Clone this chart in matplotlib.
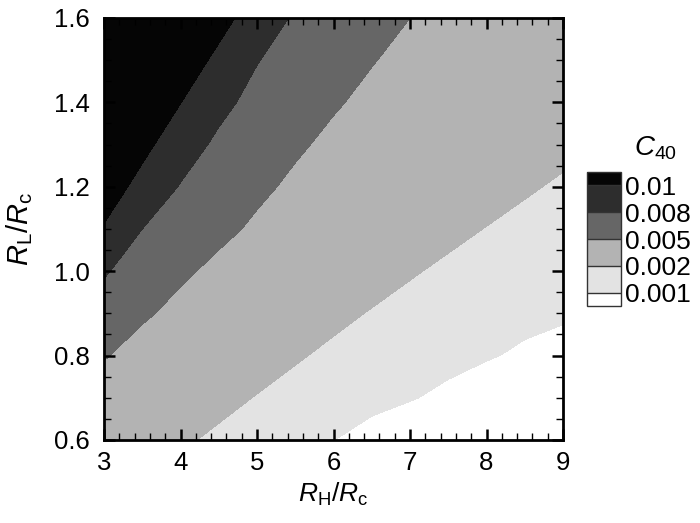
import numpy as np
import matplotlib
matplotlib.use("Agg")
import matplotlib.pyplot as plt
from matplotlib.colors import ListedColormap, BoundaryNorm
from matplotlib.ticker import MultipleLocator

plt.rcParams['font.family'] = ['Liberation Sans', 'DejaVu Sans']
plt.rcParams['mathtext.fontset'] = 'custom'
plt.rcParams['mathtext.rm'] = 'Liberation Sans'
plt.rcParams['mathtext.it'] = 'Liberation Sans:italic'

# --------------------------------
# DATA
# --------------------------------
rh_rc = [3.0, 3.5, 4.0, 4.5, 5.0, 5.5, 6.0, 6.5, 7.0, 7.5, 8.0, 8.5, 9.0]
rl_rc = [0.6, 0.7, 0.8, 0.9, 1.0, 1.1, 1.2, 1.3, 1.4, 1.5, 1.6]

# C40, one row per RL/Rc value
c40 = [
    [0.00273, 0.00243, 0.00213, 0.00183, 0.00153, 0.00125, 0.00101, 0.00074, 0.00046, 0.00030, 0.00020, 0.00015, 0.00010],
    [0.00429, 0.00370, 0.00256, 0.00226, 0.00196, 0.00166, 0.00136, 0.00120, 0.00105, 0.00083, 0.00060, 0.00037, 0.00020],
    [0.00510, 0.00446, 0.00389, 0.00270, 0.00240, 0.00210, 0.00180, 0.00150, 0.00136, 0.00122, 0.00106, 0.00089, 0.00070],
    [0.00688, 0.00519, 0.00464, 0.00409, 0.00354, 0.00254, 0.00224, 0.00194, 0.00164, 0.00134, 0.00126, 0.00118, 0.00111],
    [0.00823, 0.00684, 0.00521, 0.00471, 0.00420, 0.00369, 0.00270, 0.00240, 0.00210, 0.00180, 0.00150, 0.00145, 0.00140],
    [0.00985, 0.00800, 0.00685, 0.00529, 0.00481, 0.00433, 0.00386, 0.00330, 0.00257, 0.00227, 0.00197, 0.00167, 0.00137],
    [0.01097, 0.00941, 0.00789, 0.00674, 0.00523, 0.00479, 0.00436, 0.00393, 0.00330, 0.00274, 0.00244, 0.00214, 0.00184],
    [0.01200, 0.01048, 0.00897, 0.00761, 0.00652, 0.00516, 0.00476, 0.00437, 0.00397, 0.00358, 0.00318, 0.00260, 0.00230],
    [0.01297, 0.01150, 0.01003, 0.00856, 0.00736, 0.00634, 0.00511, 0.00475, 0.00439, 0.00402, 0.00366, 0.00330, 0.00294],
    [0.01406, 0.01257, 0.01107, 0.00958, 0.00809, 0.00708, 0.00611, 0.00505, 0.00472, 0.00438, 0.00405, 0.00372, 0.00339],
    [0.01518, 0.01367, 0.01215, 0.01064, 0.00912, 0.00776, 0.00684, 0.00592, 0.00500, 0.00469, 0.00439, 0.00408, 0.00377],
]

levels = [0.001, 0.002, 0.005, 0.008, 0.01]
level_labels = ["0.001", "0.002", "0.005", "0.008", "0.01"]

# --------------------------------
# PLOT
# --------------------------------
fig = plt.figure(figsize=(7, 5.23), dpi=100)
ax = fig.add_axes([0.1486, 0.1587, 0.6557, 0.8069])

cmap = ListedColormap(["#e3e3e3", "#b3b3b3", "#666666", "#2d2d2d"])
cmap = cmap.with_extremes(under="white", over="#050505")
norm = BoundaryNorm(levels, cmap.N)

X, Y = np.meshgrid(rh_rc, rl_rc)
cs = ax.contourf(X, Y, np.array(c40), levels=levels, cmap=cmap, norm=norm, extend="both")

ax.set_xlim(3, 9)
ax.set_ylim(0.6, 1.6)
ax.xaxis.set_major_locator(MultipleLocator(1))
ax.xaxis.set_minor_locator(MultipleLocator(0.2))
ax.yaxis.set_major_locator(MultipleLocator(0.2))
ax.yaxis.set_minor_locator(MultipleLocator(0.05))
ax.yaxis.set_major_formatter(plt.FormatStrFormatter("%.1f"))

ax.tick_params(which="both", direction="in", top=True, right=True, colors="black")
ax.tick_params(which="major", length=8, width=1.8, labelsize=18.5)
ax.tick_params(axis="x", which="major", pad=8)
ax.tick_params(axis="y", which="major", pad=10)
ax.tick_params(which="minor", length=5, width=1.0)
for sp in ax.spines.values():
    sp.set_linewidth(2)
ax.set_axisbelow(False)

ax.set_xlabel(r"$R_{\mathrm{H}}/R_{\mathrm{c}}$", fontsize=19, labelpad=4)
ax.set_ylabel(r"$R_{\mathrm{L}}/R_{\mathrm{c}}$", fontsize=21, labelpad=14)

# legend box (colorbar)
cax = fig.add_axes([0.8386, 0.4149, 0.0486, 0.2562])
cbar = fig.colorbar(cs, cax=cax, spacing="uniform", extendrect=True,
                    extendfrac=0.125, drawedges=True)
cbar.set_ticks(levels, labels=level_labels)
cbar.ax.tick_params(length=0, labelsize=19, pad=3)
cbar.outline.set_linewidth(1)
cbar.outline.set_edgecolor("#333333")
cbar.dividers.set_color("#333333")
cbar.dividers.set_linewidth(1)

fig.text(0.905, 0.7036, r"$C_{40}$", fontsize=20, ha="left", va="baseline")

fig.savefig("out.png", dpi=100)
